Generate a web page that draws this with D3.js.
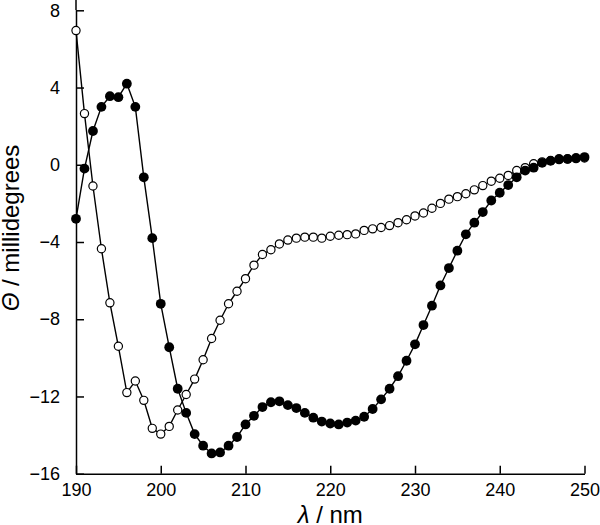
<!DOCTYPE html>
<html>
<head>
<meta charset="utf-8">
<script src="https://cdn.jsdelivr.net/npm/d3@7"></script>
<style>
  body { margin: 0; background: #fff; }
  svg { display: block; font-family: "Liberation Sans", Arial, Helvetica, sans-serif; }
</style>
</head>
<body>
<svg id="chart" width="600" height="525"></svg>
<script>
// wavelengths, 1 nm steps
const wavelengths = d3.range(190, 251);

// filled circles
const filledValues = [
  -2.8, -0.2, 1.75, 3.0, 3.55, 3.5, 4.2, 3.0, -0.65, -3.8,
  -7.2, -9.45, -11.6, -12.85, -13.95, -14.55, -14.95, -14.9, -14.55, -14.1,
  -13.45, -13.0, -12.55, -12.3, -12.25, -12.45, -12.6, -12.85, -13.1, -13.3,
  -13.4, -13.45, -13.35, -13.25, -13.05, -12.65, -12.15, -11.6, -10.95, -10.15,
  -9.3, -8.3, -7.3, -6.25, -5.35, -4.45, -3.6, -3.0, -2.45, -1.85,
  -1.45, -1.05, -0.65, -0.3, -0.15, 0.1, 0.2, 0.3, 0.3, 0.35,
  0.4
];

// open circles
const openValues = [
  6.95, 2.65, -1.1, -4.35, -7.15, -9.4, -11.8, -11.2, -12.2, -13.65,
  -13.95, -13.55, -12.7, -11.9, -11.1, -10.1, -9.0, -8.05, -7.2, -6.55,
  -5.9, -5.2, -4.65, -4.4, -4.1, -3.9, -3.8, -3.75, -3.75, -3.8,
  -3.7, -3.65, -3.62, -3.58, -3.4, -3.32, -3.25, -3.15, -3.0, -2.85,
  -2.65, -2.5, -2.25, -2.0, -1.78, -1.65, -1.5, -1.3, -1.08, -0.85,
  -0.7, -0.55, -0.3, -0.15, 0.05, 0.15, 0.22, 0.27, 0.3, 0.32,
  0.35
];

const xTicks = [190, 200, 210, 220, 230, 240, 250];
const yTicks = [-16, -12, -8, -4, 0, 4, 8];

const svg = d3.select('#chart');

const x = d3.scaleLinear().domain([190, 250]).range([76, 584.5]);
const y = d3.scaleLinear().domain([-16, 8]).range([473.7, 10.3]);

// axes, ticks pointing inward
const xAxis = svg.append('g')
  .attr('transform', 'translate(0,' + y(-16) + ')')
  .call(d3.axisBottom(x).tickValues(xTicks).tickSize(-8).tickSizeOuter(0).tickPadding(10));

const yAxis = svg.append('g')
  .attr('transform', 'translate(' + x(190) + ',0)')
  .call(d3.axisLeft(y).tickValues(yTicks).tickSize(-8).tickSizeOuter(0).tickPadding(16));

[xAxis, yAxis].forEach(function(g) {
  g.selectAll('path, line').attr('stroke', '#000').attr('stroke-width', 1.5);
  g.selectAll('text')
    .attr('fill', '#000')
    .style('font-size', '18px')
    .style('font-family', '"Liberation Sans", Arial, Helvetica, sans-serif');
});

// y axis line runs a little past the top tick
svg.append('line')
  .attr('x1', x(190)).attr('x2', x(190))
  .attr('y1', 0).attr('y2', y(8))
  .attr('stroke', '#000').attr('stroke-width', 1.5);

const line = d3.line()
  .x(function(d) { return x(d[0]); })
  .y(function(d) { return y(d[1]); });

const openData = wavelengths.map(function(w, i) { return [w, openValues[i]]; });
const filledData = wavelengths.map(function(w, i) { return [w, filledValues[i]]; });

svg.append('path')
  .datum(openData)
  .attr('d', line)
  .attr('fill', 'none')
  .attr('stroke', '#000')
  .attr('stroke-width', 1.4);

svg.append('g').selectAll('circle')
  .data(openData).enter()
  .append('circle')
    .attr('cx', function(d) { return x(d[0]); })
    .attr('cy', function(d) { return y(d[1]); })
    .attr('r', 4.1)
    .attr('fill', '#fff')
    .attr('stroke', '#000')
    .attr('stroke-width', 1.2);

svg.append('path')
  .datum(filledData)
  .attr('d', line)
  .attr('fill', 'none')
  .attr('stroke', '#000')
  .attr('stroke-width', 1.4);

svg.append('g').selectAll('circle')
  .data(filledData).enter()
  .append('circle')
    .attr('cx', function(d) { return x(d[0]); })
    .attr('cy', function(d) { return y(d[1]); })
    .attr('r', 4.9)
    .attr('fill', '#000');

// axis titles
const xTitle = svg.append('text')
  .attr('x', (x(190) + x(250)) / 2)
  .attr('y', 523)
  .attr('text-anchor', 'middle')
  .style('font-size', '24px');
xTitle.append('tspan').style('font-style', 'italic').text('λ');
xTitle.append('tspan').text(' / nm');

const yTitle = svg.append('text')
  .attr('transform', 'translate(19,228) rotate(-90)')
  .attr('text-anchor', 'middle')
  .style('font-size', '24px');
yTitle.append('tspan').style('font-style', 'italic').text('Θ');
yTitle.append('tspan').text(' / millidegrees');
</script>
</body>
</html>
